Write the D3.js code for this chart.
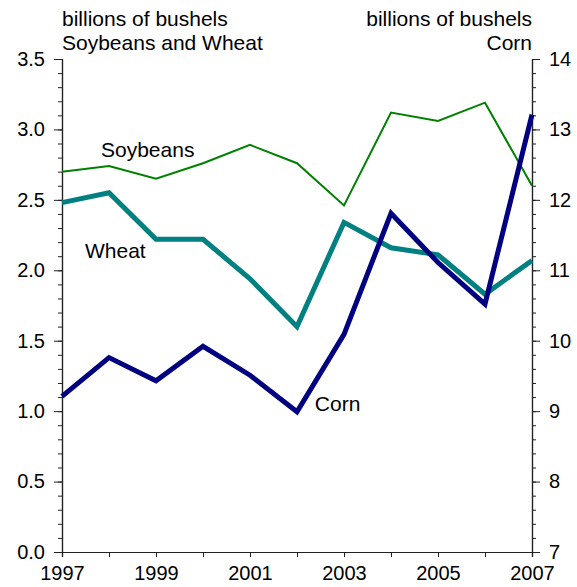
<!DOCTYPE html>
<html>
<head>
<meta charset="utf-8">
<script src="https://cdn.jsdelivr.net/npm/d3@7"></script>
<style>
  body { margin: 0; background: #fff; }
  text { font-family: "Liberation Sans", Arial, sans-serif; }
</style>
</head>
<body>
<svg id="chart"></svg>
<script>
// Data
const years = [1997, 1998, 1999, 2000, 2001, 2002, 2003, 2004, 2005, 2006, 2007];
const soybeans = [2.70, 2.74, 2.65, 2.76, 2.89, 2.76, 2.46, 3.12, 3.06, 3.19, 2.60];
const wheat = [2.48, 2.55, 2.22, 2.22, 1.94, 1.60, 2.34, 2.16, 2.11, 1.83, 2.07];
const corn = [9.21, 9.76, 9.43, 9.92, 9.51, 8.99, 10.09, 11.81, 11.11, 10.52, 13.21];

const leftTicks = [0.0, 0.5, 1.0, 1.5, 2.0, 2.5, 3.0, 3.5];
const rightTicks = [7, 8, 9, 10, 11, 12, 13, 14];
const yearLabels = [1997, 1999, 2001, 2003, 2005, 2007];

// Chart dimensions
const margin = { top: 59, right: 45, bottom: 35, left: 62 },
    width = 577 - margin.left - margin.right,
    height = 587 - margin.top - margin.bottom;

const svg = d3.select("#chart")
    .attr("width", width + margin.left + margin.right)
    .attr("height", height + margin.top + margin.bottom)
    .append("g")
    .attr("transform", `translate(${margin.left},${margin.top})`);

// Scales
const x = d3.scaleLinear().domain([1997, 2007]).range([0, width]);
const yLeft = d3.scaleLinear().domain([0, 3.5]).range([height, 0]);
const yRight = d3.scaleLinear().domain([7, 14]).range([height, 0]);

const tickFont = "20px";
const labelFont = "21px";

// Left axis: minor ticks then major ticks
svg.append("g")
    .attr("class", "axis")
    .call(d3.axisLeft(yLeft).tickValues(d3.range(0, 3.51, 0.1)).tickSize(4).tickFormat(""));
svg.append("g")
    .attr("class", "axis")
    .call(d3.axisLeft(yLeft).tickValues(leftTicks).tickSize(8).tickPadding(9).tickFormat(d3.format(".1f")));

// Right axis
svg.append("g")
    .attr("class", "axis")
    .attr("transform", `translate(${width},0)`)
    .call(d3.axisRight(yRight).tickValues(d3.range(7, 14.01, 0.2)).tickSize(4).tickFormat(""));
svg.append("g")
    .attr("class", "axis")
    .attr("transform", `translate(${width},0)`)
    .call(d3.axisRight(yRight).tickValues(rightTicks).tickSize(8).tickPadding(9).tickFormat(d3.format("d")));

// Bottom axis
svg.append("g")
    .attr("class", "axis")
    .attr("transform", `translate(0,${height})`)
    .call(d3.axisBottom(x).tickValues(years).tickSize(5).tickFormat(""));
svg.append("g")
    .attr("class", "axis")
    .attr("transform", `translate(0,${height})`)
    .call(d3.axisBottom(x).tickValues(yearLabels).tickSize(5).tickPadding(9).tickFormat(d3.format("d")));

svg.selectAll(".axis .domain").attr("stroke", "#222").attr("stroke-width", 1.2);
svg.selectAll(".axis line").attr("stroke", "#222");
svg.selectAll(".axis text")
    .attr("fill", "#000")
    .style("font-size", tickFont)
    .style("font-family", "'Liberation Sans', Arial, sans-serif");

// Lines
const lineLeft = d3.line().x((d, i) => x(years[i])).y(d => yLeft(d));
const lineRight = d3.line().x((d, i) => x(years[i])).y(d => yRight(d));

svg.append("path")
    .datum(soybeans)
    .attr("fill", "none")
    .attr("stroke", "#008000")
    .attr("stroke-width", 2)
    .attr("d", lineLeft);

svg.append("path")
    .datum(wheat)
    .attr("fill", "none")
    .attr("stroke", "#008080")
    .attr("stroke-width", 5)
    .attr("d", lineLeft);

svg.append("path")
    .datum(corn)
    .attr("fill", "none")
    .attr("stroke", "#000080")
    .attr("stroke-width", 5)
    .attr("d", lineRight);

// Series labels
const labels = [
    { text: "Soybeans", year: 1997.83, value: 2.805, axis: "left" },
    { text: "Wheat", year: 1997.49, value: 2.087, axis: "left" },
    { text: "Corn", year: 2002.38, value: 9.0, axis: "right" }
];
svg.selectAll(".series-label")
    .data(labels)
    .enter().append("text")
    .attr("class", "series-label")
    .attr("x", d => x(d.year))
    .attr("y", d => d.axis === "left" ? yLeft(d.value) : yRight(d.value))
    .style("font-size", labelFont)
    .text(d => d.text);

// Axis titles
svg.append("text")
    .attr("x", 0).attr("y", -33)
    .style("font-size", labelFont)
    .text("billions of bushels");
svg.append("text")
    .attr("x", 0).attr("y", -9)
    .style("font-size", labelFont)
    .text("Soybeans and Wheat");
svg.append("text")
    .attr("x", width).attr("y", -33)
    .attr("text-anchor", "end")
    .style("font-size", labelFont)
    .text("billions of bushels");
svg.append("text")
    .attr("x", width).attr("y", -9)
    .attr("text-anchor", "end")
    .style("font-size", labelFont)
    .text("Corn");
</script>
</body>
</html>
